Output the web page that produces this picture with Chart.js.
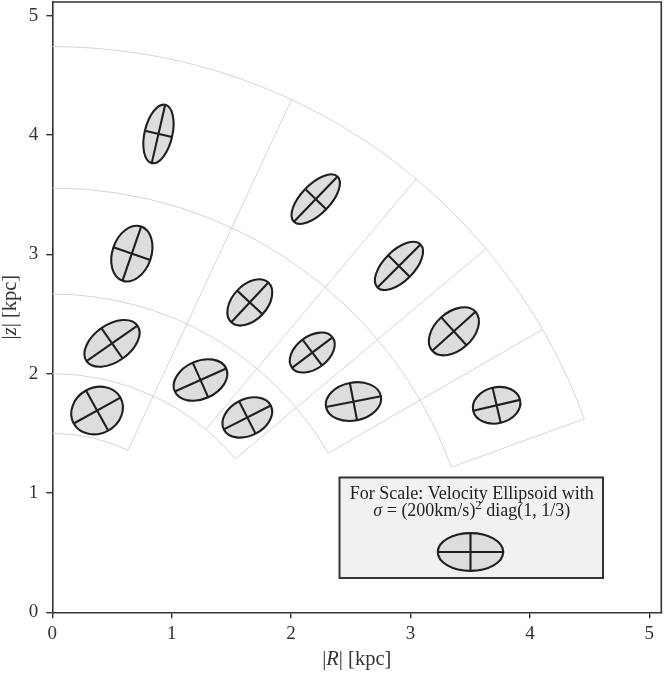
<!DOCTYPE html>
<html>
<head>
<meta charset="utf-8">
<script src="https://cdn.jsdelivr.net/npm/chart.js@4.4.1/dist/chart.umd.min.js"></script>
<style>
html, body { margin: 0; padding: 0; background: #fff; }
#wrap { width: 664px; height: 673px; }
</style>
</head>
<body>
<div id="wrap"><canvas id="mycanvas" width="664" height="673"></canvas></div>
<script>
// polar bins: ring edges in kpc, each ring runs from 90 deg down to its low angle
var rEdges = [1.5, 2.0, 2.667, 3.556, 4.741];
var ringLowAngle = [65, 40, 30, 20];
var angleEdges = [65, 50, 40, 30, 20];

// ellipse centres (kpc)
var cellR = [0.375, 0.500, 1.241, 1.633, 0.666, 1.654, 2.177, 2.522, 0.889, 2.206, 2.903, 3.363, 3.721];
var cellZ = [1.691, 2.254, 1.947, 1.633, 3.006, 2.597, 2.177, 1.766, 4.009, 3.463, 2.903, 2.355, 1.735];
// principal dispersions (km/s) and tilt of the major axis (deg from R axis)
var sigMajor = [163, 190, 172, 161, 175, 166, 155, 171, 183, 192, 186, 178, 147];
var sigMinor = [140, 113, 116, 111, 119, 106, 99, 116, 85, 89, 93, 115, 110];
var tilt = [29, 35, 24, 27, 71, 47, 37, 11, 77, 46, 45, 42, 13];

// key ellipse: (200 km/s)^2 diag(1, 1/3)
var refSig = [200, 115.5];
var kpcPer200 = 0.274;   // ellipse semi-axis length in kpc for 200 km/s

var FONT = '"Liberation Serif", "DejaVu Serif", serif';
var INK = '#333333';

function px(chart, R, z) {
	return [chart.scales.x.getPixelForValue(R), chart.scales.y.getPixelForValue(z)];
}

function drawEllipse(ctx, cx, cy, a, b, th) {
	ctx.beginPath();
	ctx.ellipse(cx, cy, a, b, th, 0, Math.PI * 2);
	ctx.fillStyle = '#dcdddf';
	ctx.fill();
	ctx.lineWidth = 2.1;
	ctx.strokeStyle = '#1f1f1f';
	ctx.stroke();
	var c = Math.cos(th), s = Math.sin(th);
	ctx.beginPath();
	ctx.moveTo(cx - a * c, cy - a * s);
	ctx.lineTo(cx + a * c, cy + a * s);
	ctx.moveTo(cx + b * s, cy - b * c);
	ctx.lineTo(cx - b * s, cy + b * c);
	ctx.stroke();
}

// text made of pieces: [text, italic, size factor, raise]
function mixedText(ctx, parts, x, y, size) {
	function fnt(p) { return (p[1] ? 'italic ' : '') + (size * (p[2] || 1)) + 'px ' + FONT; }
	var w = 0, i;
	for (i = 0; i < parts.length; i++) {
		ctx.font = fnt(parts[i]);
		w += ctx.measureText(parts[i][0]).width;
	}
	var cur = x - w / 2;
	ctx.textAlign = 'left';
	ctx.textBaseline = 'alphabetic';
	for (i = 0; i < parts.length; i++) {
		ctx.font = fnt(parts[i]);
		ctx.fillText(parts[i][0], cur, y - (parts[i][3] || 0));
		cur += ctx.measureText(parts[i][0]).width;
	}
}

var polarPlot = {
	id: 'polarPlot',
	beforeDatasetsDraw: function(chart) {
		var ctx = chart.ctx, area = chart.chartArea;
		var o = px(chart, 0, 0);
		var kx = chart.scales.x.getPixelForValue(1) - o[0];
		var ky = o[1] - chart.scales.y.getPixelForValue(1);
		ctx.save();
		ctx.beginPath();
		ctx.rect(area.left, area.top, area.right - area.left, area.bottom - area.top);
		ctx.clip();
		ctx.strokeStyle = '#d4d4d4';
		ctx.lineWidth = 1;
		// arcs
		for (var i = 0; i < rEdges.length; i++) {
			var lo = 90;
			if (i > 0) lo = Math.min(lo, ringLowAngle[i - 1]);
			if (i < ringLowAngle.length) lo = Math.min(lo, ringLowAngle[i]);
			ctx.beginPath();
			ctx.ellipse(o[0], o[1], kx * rEdges[i], ky * rEdges[i], 0, -Math.PI / 2, -lo * Math.PI / 180);
			ctx.stroke();
		}
		// radial edges
		for (var j = 0; j < angleEdges.length; j++) {
			var ang = angleEdges[j] * Math.PI / 180, k = 0;
			while (ringLowAngle[k] > angleEdges[j]) k++;
			var r0 = rEdges[k], r1 = rEdges[rEdges.length - 1];
			var p0 = px(chart, r0 * Math.cos(ang), r0 * Math.sin(ang));
			var p1 = px(chart, r1 * Math.cos(ang), r1 * Math.sin(ang));
			ctx.beginPath();
			ctx.moveTo(p0[0], p0[1]);
			ctx.lineTo(p1[0], p1[1]);
			ctx.stroke();
		}
		ctx.restore();
	},
	afterDatasetsDraw: function(chart) {
		var ctx = chart.ctx;
		var kx = chart.scales.x.getPixelForValue(1) - chart.scales.x.getPixelForValue(0);
		ctx.save();
		for (var i = 0; i < cellR.length; i++) {
			var c = px(chart, cellR[i], cellZ[i]);
			drawEllipse(ctx, c[0], c[1],
				sigMajor[i] / 200 * kpcPer200 * kx,
				sigMinor[i] / 200 * kpcPer200 * kx,
				-tilt[i] * Math.PI / 180);
		}
		ctx.restore();
	},
	afterDraw: function(chart) {
		var ctx = chart.ctx, area = chart.chartArea;
		var kx = chart.scales.x.getPixelForValue(1) - chart.scales.x.getPixelForValue(0);
		ctx.save();
		// top and right frame
		ctx.strokeStyle = INK;
		ctx.lineWidth = 1.6;
		ctx.beginPath();
		ctx.moveTo(area.left, area.top);
		ctx.lineTo(area.right, area.top);
		ctx.lineTo(area.right, area.bottom);
		ctx.stroke();

		// key box
		var bx0 = 339.5, by0 = 477.5, bx1 = 603, by1 = 578;
		ctx.fillStyle = '#f0f2f1';
		ctx.fillRect(bx0, by0, bx1 - bx0, by1 - by0);
		ctx.strokeStyle = INK;
		ctx.lineWidth = 2;
		ctx.strokeRect(bx0, by0, bx1 - bx0, by1 - by0);
		var mid = (bx0 + bx1) / 2 + 0.5;
		ctx.fillStyle = '#222';
		mixedText(ctx, [['For Scale: Velocity Ellipsoid with', false]], mid, 498.5, 18);
		mixedText(ctx, [['\u03c3', true], [' = (200km/s)', false], ['2', false, 0.7, 7], [' diag(1, 1/3)', false]], mid, 516, 18);
		drawEllipse(ctx, 470.5, 552, refSig[0] / 200 * kpcPer200 * kx, refSig[1] / 200 * kpcPer200 * kx, 0);

		// axis titles
		ctx.fillStyle = INK;
		mixedText(ctx, [['|', false], ['R', true], ['| [kpc]', false]], (area.left + area.right) / 2, 665, 20.5);
		ctx.translate(15.5, (area.top + area.bottom) / 2);
		ctx.rotate(-Math.PI / 2);
		mixedText(ctx, [['|', false], ['z', true], ['| [kpc]', false]], 0, 0, 20.5);
		ctx.restore();
	}
};

var ctx = document.getElementById('mycanvas');
var myChart = new Chart(ctx, {
	type: 'scatter',
	data: {
		datasets: [{
			label: 'cells',
			data: cellR.map(function(r, i) { return {x: r, y: cellZ[i]}; }),
			pointRadius: 0
		}]
	},
	options: {
		responsive: false,
		animation: false,
		devicePixelRatio: 1,
		layout: { padding: { top: 2, right: 2.7, left: 0, bottom: 0 } },
		plugins: { legend: { display: false }, tooltip: { enabled: false } },
		scales: {
			x: {
				type: 'linear', min: 0, max: 5.1,
				afterFit: function(s) { s.height = 60.7; s.paddingLeft = 0; s.paddingRight = 0; },
				border: { color: INK, width: 1.6 },
				grid: { drawOnChartArea: false, tickLength: 6, color: INK, lineWidth: 1.4 },
				ticks: { stepSize: 1, includeBounds: false, padding: 4, color: INK,
					font: { family: FONT, size: 19 } }
			},
			y: {
				type: 'linear', min: 0, max: 5.115,
				afterFit: function(s) { s.width = 52.3; s.paddingTop = 0; s.paddingBottom = 0; },
				border: { color: INK, width: 1.6 },
				grid: { drawOnChartArea: false, tickLength: 6, color: INK, lineWidth: 1.4 },
				ticks: { stepSize: 1, includeBounds: false, padding: 8, color: INK,
					font: { family: FONT, size: 19 } }
			}
		}
	},
	plugins: [polarPlot]
});
</script>
</body>
</html>
